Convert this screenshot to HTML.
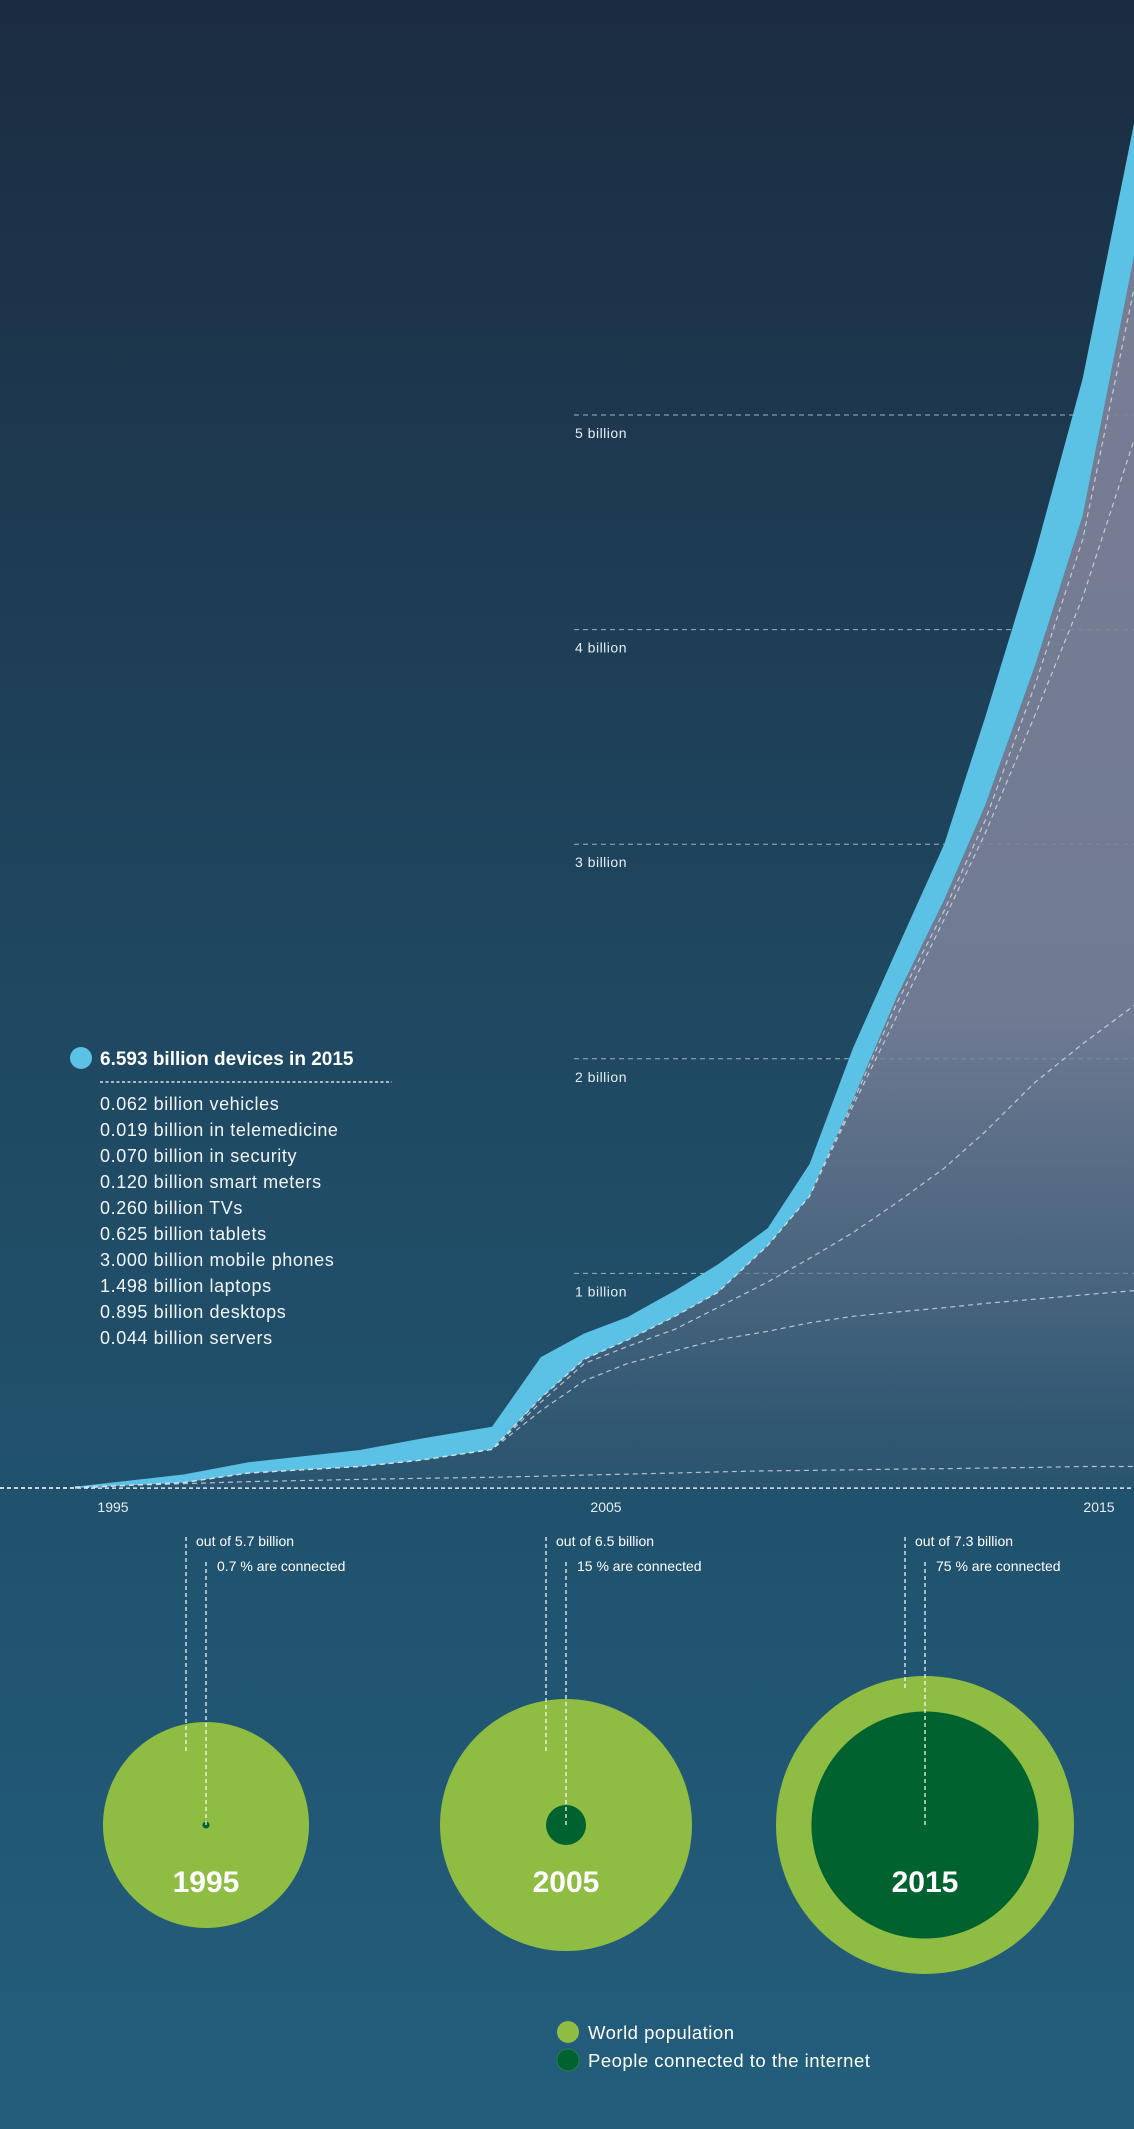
<!DOCTYPE html>
<html><head><meta charset="utf-8"><style>
html,body{margin:0;padding:0;}
body{width:1134px;height:2129px;overflow:hidden;font-family:"Liberation Sans",sans-serif;}
svg{display:block}
</style></head><body>
<svg id="chart" width="1134" height="2129" viewBox="0 0 1134 2129" xmlns="http://www.w3.org/2000/svg">
<defs>
<linearGradient id="bg" x1="0" y1="0" x2="0" y2="1">
<stop offset="0" stop-color="#1b2c41"/>
<stop offset="0.45" stop-color="#1f4760"/>
<stop offset="1" stop-color="#225e7c"/>
</linearGradient>
<linearGradient id="area" gradientUnits="userSpaceOnUse" x1="0" y1="300" x2="0" y2="1488">
<stop offset="0" stop-color="#7d8198" stop-opacity="0.95"/>
<stop offset="0.6" stop-color="#7e849c" stop-opacity="0.85"/>
<stop offset="0.85" stop-color="#62738c" stop-opacity="0.55"/>
<stop offset="1" stop-color="#3e5c78" stop-opacity="0.3"/>
</linearGradient>
</defs>
<rect x="0" y="0" width="1134" height="2129" fill="url(#bg)"/>
<g id="grid"></g>
<g id="marks"></g>
<g id="legend" font-family="Liberation Sans, sans-serif" fill="#ffffff">
<circle cx="81" cy="1058" r="11" fill="#5bc2e5"/>
<text x="100" y="1065" font-size="19" font-weight="bold">6.593 billion devices in 2015</text>
<line x1="100" y1="1082" x2="392" y2="1082" stroke="#ffffff" stroke-width="1.2" stroke-dasharray="3,2.5"/>
</g>
<g id="circles" font-family="Liberation Sans, sans-serif"></g>
</svg>
<script>
// ---- line chart data ----
const years = [1994.23,1996.43,1997.75,2000.01,2001.25,2002.69,2003.68,2004.56,2005.44,2006.4,2007.26,2008.28,2009.13,2010.01,2010.9,2011.86,2012.69,2013.7,2014.67,2015.72];
const totalDevices = [0.006,0.063,0.12,0.177,0.23,0.285,0.61,0.72,0.797,0.92,1.04,1.21,1.51,2.05,2.51,3.0,3.59,4.35,5.17,6.37];
const innerTop = [0,0.025,0.07,0.10,0.13,0.18,0.42,0.60,0.69,0.80,0.91,1.13,1.36,1.81,2.29,2.74,3.18,3.83,4.53,5.75];
const serversLine = [0.005,0.02,0.03,0.04,0.045,0.05,0.055,0.06,0.065,0.07,0.075,0.08,0.082,0.085,0.088,0.09,0.093,0.096,0.1,0.1];
const desktopsLine = [0,0.025,0.07,0.10,0.13,0.18,0.36,0.50,0.58,0.64,0.69,0.73,0.77,0.80,0.82,0.84,0.86,0.88,0.90,0.92];
const laptopsLine = [0,0.025,0.07,0.10,0.13,0.18,0.40,0.58,0.66,0.74,0.84,0.96,1.07,1.19,1.33,1.49,1.66,1.89,2.07,2.25];
const phonesLine = [0,0.025,0.07,0.10,0.13,0.18,0.42,0.60,0.69,0.80,0.91,1.13,1.36,1.78,2.20,2.65,3.05,3.60,4.15,4.89];
const nearTopLine = [0,0.025,0.07,0.10,0.13,0.18,0.42,0.60,0.69,0.80,0.91,1.13,1.36,1.80,2.26,2.69,3.11,3.74,4.42,5.6];
const gridValues = [1,2,3,4,5];
const gridLabels = ["1 billion","2 billion","3 billion","4 billion","5 billion"];
const tickYears = [1995,2005,2015];
const legendItems = ["0.062 billion vehicles","0.019 billion in telemedicine","0.070 billion in security","0.120 billion smart meters","0.260 billion TVs","0.625 billion tablets","3.000 billion mobile phones","1.498 billion laptops","0.895 billion desktops","0.044 billion servers"];
// ---- circle data ----
const circleYears = ["1995","2005","2015"];
const populations = [5.7,6.5,7.3];
const connectedPct = [0.7,15,75];

const NS="http://www.w3.org/2000/svg";
const X = y => 113 + (y-1995)*49.3;
const Y = v => 1488 - v*214.6;
function mk(tag, attrs, parent){const e=document.createElementNS(NS,tag);for(const k in attrs)e.setAttribute(k,attrs[k]);parent.appendChild(e);return e;}
const grid=document.getElementById('grid'), marks=document.getElementById('marks');

gridValues.forEach((v,i)=>{
  const l=mk('line',{x1:574,x2:1134,y1:Y(v),y2:Y(v),stroke:'#9fb0c0','stroke-width':1,'stroke-dasharray':'5,4'},grid);
  
  
  const t=mk('text',{x:575,y:Y(v)+23,fill:'#e6edf2','font-size':14,'letter-spacing':'0.5'},grid);
  t.textContent=gridLabels[i];
  
  
});
const base=mk('line',{x1:0,x2:1134,y1:1488,y2:1488,stroke:'#ffffff','stroke-width':1.5,'stroke-dasharray':'4,3'},grid);


tickYears.forEach(y=>{
  const t=mk('text',{x:X(y),y:1512,fill:'#e6edf2','font-size':14,'text-anchor':'middle'},grid);
  t.textContent=y;
  
  
});

const pts=a=>a.map((v,i)=>X(years[i]).toFixed(1)+','+Y(v).toFixed(1));
const area=mk('polygon',{points:pts(innerTop).concat([X(years[years.length-1])+','+1488,X(years[0])+','+1488]).join(' '),fill:'url(#area)'},marks);


const band=mk('polygon',{points:pts(totalDevices).concat(pts(innerTop).reverse()).join(' '),fill:'#5bc2e5'},marks);


[['servers-line',serversLine],['desktops-line',desktopsLine],['laptops-line',laptopsLine],['phones-line',phonesLine],['near-top-line',nearTopLine]].forEach(([n,arr])=>{
  const p=mk('polyline',{points:pts(arr).join(' '),fill:'none',stroke:'#d8dde6','stroke-width':1.2,'stroke-dasharray':'5,4','stroke-opacity':0.8},marks);
  
  
});

const lg=document.getElementById('legend');
legendItems.forEach((s,i)=>{
  const t=mk('text',{x:100,y:1110+i*26,'font-size':18,fill:'#f2f5f8','letter-spacing':'0.6'},lg);
  t.textContent=s;
  
  
});

// circles
const cg=document.getElementById('circles');
const centers=[206,566,925];
const radii=[103,126,149];
const cy=1825;
populations.forEach((p,i)=>{
  const r=radii[i];
  const outer=mk('circle',{cx:centers[i],cy:cy,r:r,fill:'#8fbc43'},cg);
  
  
  const ir=r*Math.sqrt(connectedPct[i]/100)*(i==2?0.88:0.41);
  const inner=mk('circle',{cx:centers[i],cy:cy,r:Math.max(ir,0.8),fill:'#00632f'},cg);
  
  
  const cx=centers[i];
  const l1=mk('line',{x1:cx-20,x2:cx-20,y1:1537,y2:i==2?1691:1754,stroke:'#ffffff','stroke-width':1.2,'stroke-dasharray':'4,3'},cg);
  
  
  const l2=mk('line',{x1:cx,x2:cx,y1:1562,y2:cy,stroke:'#ffffff','stroke-width':1.2,'stroke-dasharray':'4,3'},cg);
  
  
  const t1=mk('text',{x:cx-10,y:1546,'font-size':14,fill:'#ffffff'},cg);
  t1.textContent='out of '+p+' billion';
  
  
  const t2=mk('text',{x:cx+11,y:1571,'font-size':14,fill:'#ffffff'},cg);
  t2.textContent=connectedPct[i]+' % are connected';
  
  
  const ty=mk('text',{x:cx,y:1892,'font-size':30,'font-weight':'bold',fill:'#ffffff','text-anchor':'middle'},cg);
  ty.textContent=circleYears[i];
  
  
});
const d1=mk('circle',{cx:568,cy:2032,r:11,fill:'#8fbc43'},cg);


const lt1=mk('text',{x:588,y:2039,'font-size':18.5,fill:'#ffffff','letter-spacing':'0.5'},cg);
lt1.textContent='World population';


const d2=mk('circle',{cx:568,cy:2060,r:11,fill:'#00632f',stroke:'#2a7a4a','stroke-width':1},cg);


const lt2=mk('text',{x:588,y:2067,'font-size':18.5,fill:'#ffffff','letter-spacing':'0.5'},cg);
lt2.textContent='People connected to the internet';


</script>
</body></html>
